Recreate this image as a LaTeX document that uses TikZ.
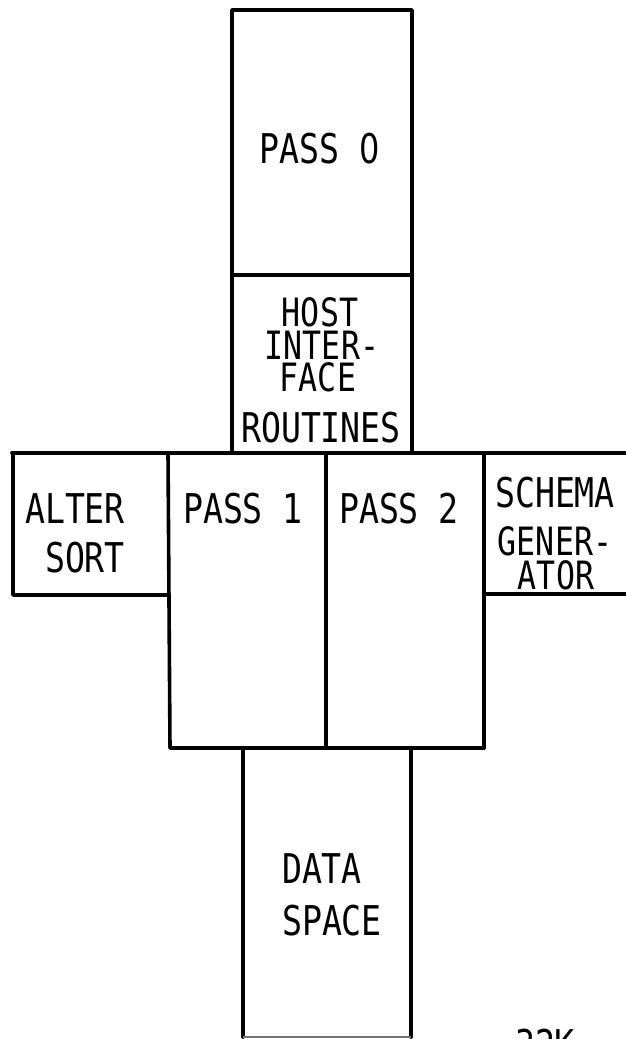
\documentclass[tikz,border=0pt]{standalone}
\usepackage{fontspec}
\newfontfamily\labfont[FakeStretch=0.81]{DejaVu Sans Mono}
\newfontfamily\zerofont[FakeStretch=0.78]{DejaVu Sans}
\begin{document}
\begin{tikzpicture}[x=1pt,y=-1pt,
  wall/.style={line width=3.6pt,line cap=round,line join=round,black},
  lab/.style={font=\labfont\fontsize{41}{41}\selectfont,inner sep=0pt,anchor=base,text=black},
  tight/.style={lab,font=\labfont\fontsize{39}{39}\selectfont}]
\useasboundingbox (0,0) rectangle (626,1039);
% boxes
\draw[wall] (232,275) -- (232,10) -- (412,10) -- (412,275);
\draw[wall] (232,275) -- (412,275);
\draw[wall] (232,275) -- (232,453);
\draw[wall] (412,275) -- (412,453);
\draw[wall] (12,453) -- (630,453);
\draw[wall] (13,453) -- (13,595) -- (169,595);
\draw[wall] (168,453) -- (170,748) -- (484,748);
\draw[wall] (326,453) -- (326,748);
\draw[wall] (484,453) -- (484,748);
\draw[wall] (484,594) -- (630,594);
\draw[wall] (243,748) -- (243,1037);
\draw[wall] (411,748) -- (411,1037);
\draw[line width=2pt,black!55] (243,1037) -- (411,1037);
% labels
\node[lab] (p0) at (320,163) {PASS {\zerofont 0}};
\node[tight] (h1) at (320,326) {HOST};
\node[tight] (h2) at (322,359) {INTER-};
\node[tight] (h3) at (318,391) {FACE};
\node[lab] (h4) at (321,442) {ROUTINES};
\node[lab] (a1) at (75,523) {ALTER};
\node[lab] (a2) at (85,572) {SORT};
\node[lab] (p1) at (243,523) {PASS 1};
\node[lab] (p2) at (399,523) {PASS 2};
\node[lab] (s1) at (555,507) {SCHEMA};
\node[tight] (s2) at (555,555) {GENER-};
\node[tight] (s3) at (556,589) {ATOR};
\node[lab] (d1) at (322,883) {DATA};
\node[lab] (d2) at (332,935) {SPACE};
\node[lab] (k) at (545,1059) {32K};
\end{tikzpicture}
\end{document}
